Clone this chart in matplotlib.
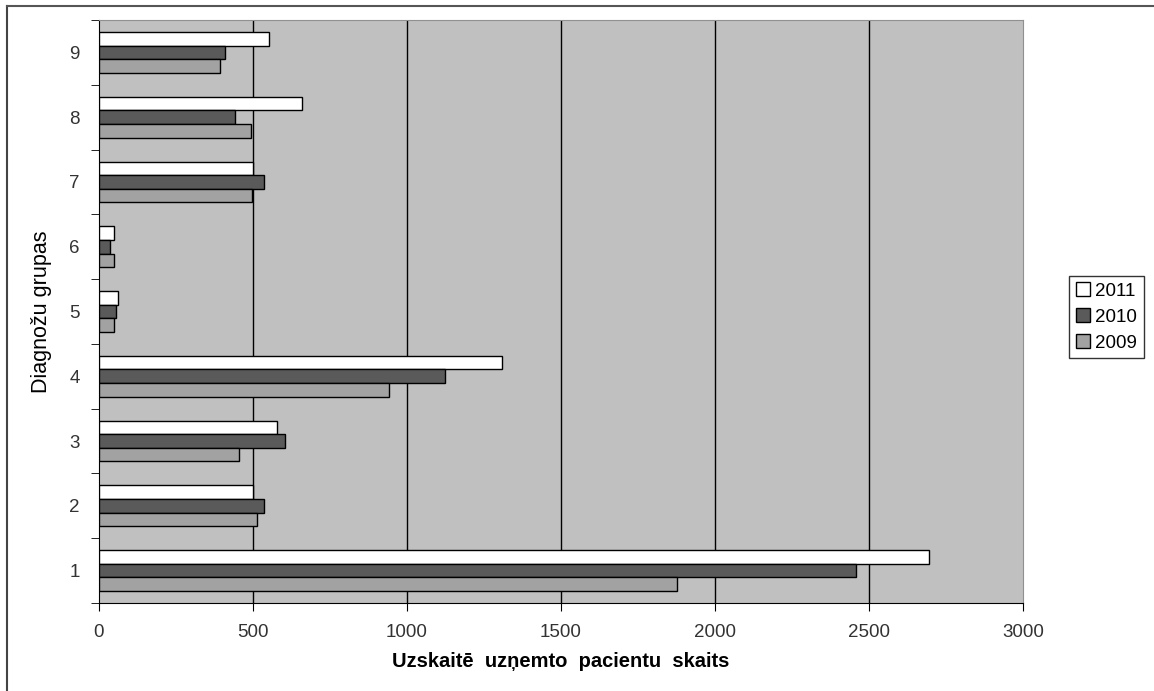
import matplotlib.pyplot as plt
import numpy as np
from matplotlib.lines import Line2D

plt.rcParams['font.family'] = ['Liberation Sans', 'DejaVu Sans']

groups = [1, 2, 3, 4, 5, 6, 7, 8, 9]
years = ["2011", "2010", "2009"]
v2011 = [2695, 501, 578, 1308, 63, 50, 500, 660, 553]
v2010 = [2457, 536, 605, 1124, 56, 37, 536, 441, 410]
v2009 = [1878, 514, 456, 940, 50, 50, 498, 492, 394]

colors = ["#ffffff", "#5a5a5a", "#a2a2a2"]
values = [v2011, v2010, v2009]
offsets = [0.21, 0.0, -0.21]

fig = plt.figure(figsize=(11.54, 6.91), dpi=100)
ax = fig.add_axes([99 / 1154, 1 - 603 / 691, 924 / 1154, 583 / 691])
ax.set_facecolor("#c0c0c0")

y = np.array(groups)
for vals, col, off, lab in zip(values, colors, offsets, years):
    ax.barh(y + off, vals, height=0.21, color=col, edgecolor="black",
            linewidth=1, label=lab, zorder=3)

ax.set_xlim(0, 3000)
ax.set_ylim(0.5, 9.5)
ax.set_xticks(range(0, 3001, 500))
for xv in range(500, 3000, 500):
    ax.axvline(xv, color="black", linewidth=1, zorder=1)

ax.set_yticks(groups)
ax.set_yticks(np.arange(0.5, 9.6, 1), minor=True)
ax.tick_params(axis="y", which="major", length=0, pad=14, labelsize=13.5, labelcolor="#333333")
ax.tick_params(axis="y", which="minor", length=6, direction="out")
ax.tick_params(axis="x", length=6, direction="out", pad=9, labelsize=13.5, labelcolor="#333333")

for s in ["top", "right"]:
    ax.spines[s].set_color("#909090")
for s in ["left", "bottom"]:
    ax.spines[s].set_color("black")

ax.set_xlabel("Uzskaitē  uzņemto  pacientu  skaits", fontsize=14.5, fontweight="bold", labelpad=8)
ax.set_ylabel("Diagnožu grupas", fontsize=15.5, labelpad=12)

leg = ax.legend(loc="center left", bbox_to_anchor=(1069 / 1154, 1 - 317 / 691),
                bbox_transform=fig.transFigure, frameon=True, fancybox=False,
                edgecolor="black", fontsize=13.5, handlelength=0.75, handleheight=0.75,
                handletextpad=0.3, borderpad=0.35, labelspacing=0.45, borderaxespad=0)
leg.get_frame().set_linewidth(1)

# outer frame lines
fig.add_artist(Line2D([7 / 1154, 7 / 1154], [0, 1 - 6 / 691], transform=fig.transFigure,
                      color="#444444", linewidth=1.5))
fig.add_artist(Line2D([7 / 1154, 1], [1 - 6 / 691, 1 - 6 / 691], transform=fig.transFigure,
                      color="#555555", linewidth=1.5))

fig.savefig("out.png", dpi=100)
